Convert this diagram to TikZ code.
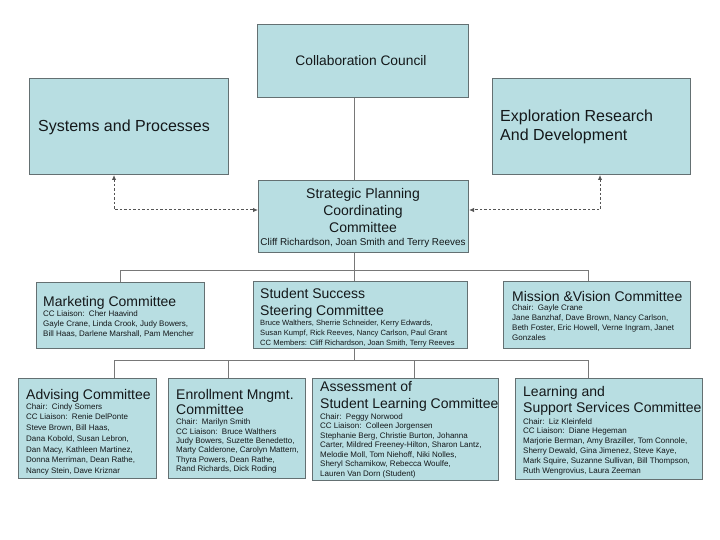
\documentclass[tikz,border=0pt]{standalone}
\usepackage{fontspec}
\setmainfont{Liberation Sans}
\usetikzlibrary{arrows.meta,calc}
\definecolor{boxfill}{RGB}{184,222,226}
\definecolor{boxline}{RGB}{100,112,114}
\definecolor{conn}{RGB}{120,120,120}
\definecolor{txt}{RGB}{20,24,26}
\tikzset{
  box/.style={draw=boxline, line width=1pt, fill=boxfill, inner sep=0pt, anchor=north west},
  hd/.style={inner sep=0pt, text=txt, align=left, anchor=north west, font=\fontsize{14}{#1}\selectfont},
  sm/.style={inner sep=0pt, text=txt, align=left, anchor=north west, font=\fontsize{8}{#1}\selectfont},
  link/.style={draw=conn, line width=1pt},
  dotlink/.style={draw=conn!70!black, line width=1pt, dash pattern=on 2.5pt off 2pt,
     {Latex[length=5pt,width=4.5pt]}-{Latex[length=5pt,width=4.5pt]}}
}
\newcommand{\mybox}[5]{\node[box, minimum width=#4-#2, minimum height=#5-#3] (#1) at (#2,#3) {};}
\begin{document}
\begin{tikzpicture}[x=1pt,y=-1pt]
\useasboundingbox (0,0) rectangle (720,540);
% boxes
\mybox{cc}{257}{24}{468}{97}
\mybox{sp}{29}{78}{228}{174}
\mybox{er}{492}{78}{690}{174}
\mybox{spc}{258}{180}{468}{252}
\mybox{mk}{36}{282}{204}{348}
\mybox{ss}{253}{281}{467}{348}
\mybox{mv}{503}{281}{690}{348}
\mybox{ad}{18}{378}{156}{478}
\mybox{en}{168}{378}{305}{478}
\mybox{as}{312}{378}{498}{480}
\mybox{ls}{515}{378}{702}{479}
% helper coordinates
\coordinate (cx) at (354,0);
\coordinate (bus1) at (0,270);
\coordinate (bus2) at (0,360);
\coordinate (dl) at (114,0);
\coordinate (dr) at (600,0);
\coordinate (dy) at (0,210);
\coordinate (b1l) at (120,270);
\coordinate (b1r) at (588,270);
\coordinate (b2l) at (114,360);
\coordinate (b2m) at (228,360);
\coordinate (b2n) at (414,360);
\coordinate (b2r) at (588,360);
% connectors
\draw[link] (cc.south -| cx) -- (spc.north -| cx);
\draw[link] (spc.south -| cx) -- (bus1 -| cx);
\draw[link] (mk.north -| b1l) -- (b1l) -- (b1r) -- (mv.north -| b1r);
\draw[link] (bus1 -| cx) -- (ss.north -| cx);
\draw[link] (ss.south -| cx) -- (bus2 -| cx);
\draw[link] (ad.north -| b2l) -- (b2l) -- (b2r) -- (ls.north -| b2r);
\draw[link] (b2m) -- (en.north -| b2m);
\draw[link] (b2n) -- (as.north -| b2n);
\draw[dotlink] (sp.south -| dl) |- (spc.west |- dy);
\draw[dotlink] (er.south -| dr) |- (spc.east |- dy);
% texts
\node[inner sep=0pt, text=txt, font=\fontsize{13.8}{16}\selectfont] (cct) at (361,61) {Collaboration Council};
\node[inner sep=0pt, text=txt, anchor=west, font=\fontsize{16}{19}\selectfont] (spt) at (38,127) {Systems and Processes};
\node[inner sep=0pt, text=txt, anchor=west, align=left, font=\fontsize{16}{19}\selectfont] (ert) at (500,126.5) {Exploration Research\\And Development};
\node[inner sep=0pt, text=txt, anchor=north, align=center, font=\fontsize{14}{17}\selectfont] (spct) at (363,188) {Strategic Planning\\Coordinating\\Committee};
\node[inner sep=0pt, text=txt, font=\fontsize{9.9}{11}\selectfont] (spcn) at (363,242.5) {Cliff Richardson, Joan Smith and Terry Reeves};
% Marketing
\node[hd=16] (mkh) at (43,296) {Marketing Committee};
\node[sm=9.6] (mks) at (43,311) {CC Liaison:\ \ Cher Haavind\\Gayle Crane, Linda Crook, Judy Bowers,\\Bill Haas, Darlene Marshall, Pam Mencher};
% Student Success
\node[hd=17] (ssh) at (260,288) {Student Success\\Steering Committee};
\node[sm=10, font=\fontsize{7.6}{10}\selectfont] (sss) at (260,320) {Bruce Walthers, Sherrie Schneider, Kerry Edwards,\\Susan Kumpf, Rick Reeves, Nancy Carlson, Paul Grant\\CC Members: Cliff Richardson, Joan Smith, Terry Reeves};
% Mission
\node[hd=16] (mvh) at (512,291) {Mission \&Vision Committee};
\node[sm=9.7] (mvs) at (512,305) {Chair:\ \ Gayle Crane\\Jane Banzhaf, Dave Brown, Nancy Carlson,\\Beth Foster, Eric Howell, Verne Ingram, Janet\\Gonzales};
% Advising
\node[hd=16] (adh) at (26,389) {Advising Committee};
\node[sm=10.8] (ads) at (26,403) {Chair:\ \ Cindy Somers\\CC Liaison:\ \ Renie DelPonte\\Steve Brown, Bill Haas,\\Dana Kobold, Susan Lebron,\\Dan Macy, Kathleen Martinez,\\Donna Merriman, Dean Rathe,\\Nancy Stein, Dave Kriznar};
% Enrollment
\node[hd=15.3] (enh) at (176,389) {Enrollment Mngmt.\\Committee};
\node[sm=9.3] (ens) at (176,419) {Chair:\ \ Marilyn Smith\\CC Liaison:\ \ Bruce Walthers\\Judy Bowers, Suzette Benedetto,\\Marty Calderone, Carolyn Mattern,\\Thyra Powers, Dean Rathe,\\Rand Richards, Dick Roding};
% Assessment
\node[hd=17] (ash) at (320,381) {Assessment of\\Student Learning Committee};
\node[sm=9.5] (ass) at (320,413) {Chair:\ \ Peggy Norwood\\CC Liaison:\ \ Colleen Jorgensen\\Stephanie Berg, Christie Burton, Johanna\\Carter, Mildred Freeney-Hilton, Sharon Lantz,\\Melodie Moll, Tom Niehoff, Niki Nolles,\\Sheryl Schamikow, Rebecca Woulfe,\\Lauren Van Dorn (Student)};
% Learning
\node[hd=16.3] (lsh) at (523,386) {Learning and\\Support Services Committee};
\node[sm=9.9] (lss) at (523,418) {Chair:\ \ Liz Kleinfeld\\CC Liaison:\ \ Diane Hegeman\\Marjorie Berman, Amy Braziller, Tom Connole,\\Sherry Dewald, Gina Jimenez, Steve Kaye,\\Mark Squire, Suzanne Sullivan, Bill Thompson,\\Ruth Wengrovius, Laura Zeeman};
\end{tikzpicture}
\end{document}
